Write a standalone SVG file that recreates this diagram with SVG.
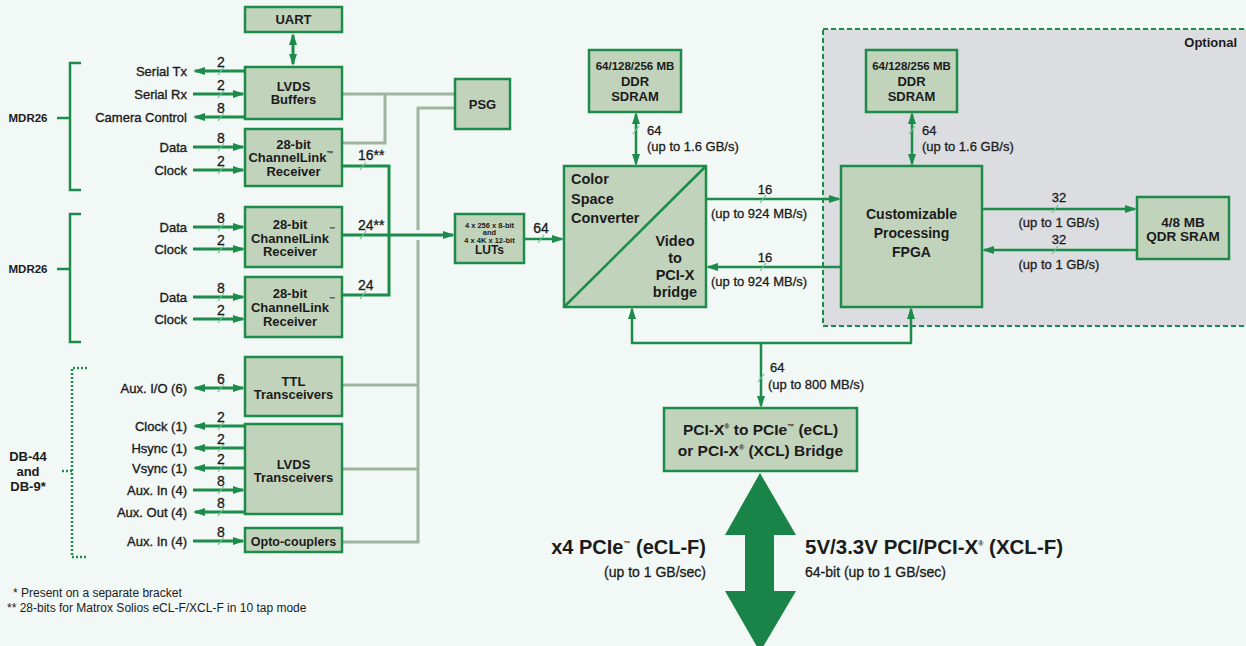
<svg xmlns="http://www.w3.org/2000/svg" width="1246" height="646" viewBox="0 0 1246 646">
<defs>
<style>
.box{fill:#c2d3bb;stroke:#1d8c4b;stroke-width:2.5}
.ln{stroke:#1d8c4b;stroke-width:3;fill:none}
.ln2{stroke:#1d8c4b;stroke-width:2.5;fill:none}
.gray{stroke:#9db59e;stroke-width:3;fill:none}
.tk{stroke:#6fc48e;stroke-width:1.2}
text{font-family:"Liberation Sans",Arial,sans-serif;fill:#1b1b1b}
.b{font-weight:bold;font-size:13px;text-anchor:middle}
.lb{font-size:13px;text-anchor:end;stroke:#1b1b1b;stroke-width:0.35}
.n{font-size:13px;text-anchor:middle;stroke:#1b1b1b;stroke-width:0.3}
.s{font-size:13px;stroke:#1b1b1b;stroke-width:0.3}
.sup{font-size:7px}
</style>
<marker id="a" viewBox="0 0 12 8" markerUnits="userSpaceOnUse" markerWidth="12" markerHeight="8" refX="10" refY="4" orient="auto-start-reverse">
<path d="M0,0 L12,4 L0,8 z" fill="#1d8c4b"/>
</marker>
</defs>
<rect width="1246" height="646" fill="#f2f8f6"/>

<g id="optional">
<rect x="823" y="29" width="430" height="297" fill="#dcdde0" stroke="#1d8c4b" stroke-width="2" stroke-dasharray="5,3"/>
<text x="1237" y="47" style="font-weight:bold;font-size:13px;text-anchor:end">Optional</text>
</g>

<g id="brackets">
<path class="ln" d="M81,63 H70 V190 H81 M57,118 H70" style="stroke-width:2.5"/>
<path class="ln" d="M81,214 H70 V342 H81 M57,269 H70" style="stroke-width:2.5"/>
<path d="M87,368 H72 V557 H87 M62,471 H72" fill="none" stroke="#1d8c4b" stroke-width="2.5" stroke-dasharray="2,2"/>
<text x="28" y="122" style="font-weight:bold;font-size:11.5px;text-anchor:middle">MDR26</text>
<text x="28" y="273" style="font-weight:bold;font-size:11.5px;text-anchor:middle">MDR26</text>
<text x="28" y="461" style="font-weight:bold;font-size:13px;text-anchor:middle">DB-44</text>
<text x="28" y="476" style="font-weight:bold;font-size:13px;text-anchor:middle">and</text>
<text x="28" y="491" style="font-weight:bold;font-size:13px;text-anchor:middle">DB-9*</text>
</g>

<g id="connectors">
<path class="gray" d="M342,94 H455 M385,94 V143 H342"/>
<path class="gray" d="M455,108 H418 V230 M418,240 V542 H342 M418,385 H342 M418,469 H342"/>
<path class="ln" d="M342,166 H389 V295 H342"/>
<path class="ln" d="M342,235 H453" marker-end="url(#a)"/>
<line class="tk" x1="360" y1="170" x2="366" y2="162"/>
<line class="tk" x1="360" y1="239" x2="366" y2="231"/>
<line class="tk" x1="360" y1="299" x2="366" y2="291"/>
<text x="358" y="160" class="s" style="font-size:14px">16**</text>
<text x="358" y="230" class="s" style="font-size:14px">24**</text>
<text x="358" y="290" class="s" style="font-size:14px">24</text>
<path class="ln" d="M293,35 V64" marker-start="url(#a)" marker-end="url(#a)"/>
<path class="ln" d="M245,71 H195" marker-end="url(#a)"/>
<path class="ln" d="M193,94 H243" marker-end="url(#a)"/>
<path class="ln" d="M245,117 H195" marker-end="url(#a)"/>
<path class="ln" d="M193,147 H243" marker-end="url(#a)"/>
<path class="ln" d="M193,170 H243" marker-end="url(#a)"/>
<path class="ln" d="M193,227 H243" marker-end="url(#a)"/>
<path class="ln" d="M193,249 H243" marker-end="url(#a)"/>
<path class="ln" d="M193,297 H243" marker-end="url(#a)"/>
<path class="ln" d="M193,319 H243" marker-end="url(#a)"/>
<path class="ln" d="M195,388 H243" marker-start="url(#a)" marker-end="url(#a)"/>
<path class="ln" d="M245,426 H195" marker-end="url(#a)"/>
<path class="ln" d="M245,448 H195" marker-end="url(#a)"/>
<path class="ln" d="M245,468 H195" marker-end="url(#a)"/>
<path class="ln" d="M193,490 H243" marker-end="url(#a)"/>
<path class="ln" d="M245,512 H195" marker-end="url(#a)"/>
<path class="ln" d="M193,541 H243" marker-end="url(#a)"/>
<g class="tk">
<line x1="218" y1="75" x2="224" y2="67"/>
<line x1="218" y1="98" x2="224" y2="90"/>
<line x1="218" y1="121" x2="224" y2="113"/>
<line x1="218" y1="151" x2="224" y2="143"/>
<line x1="218" y1="174" x2="224" y2="166"/>
<line x1="218" y1="231" x2="224" y2="223"/>
<line x1="218" y1="253" x2="224" y2="245"/>
<line x1="218" y1="301" x2="224" y2="293"/>
<line x1="218" y1="323" x2="224" y2="315"/>
<line x1="218" y1="392" x2="224" y2="384"/>
<line x1="218" y1="430" x2="224" y2="422"/>
<line x1="218" y1="452" x2="224" y2="444"/>
<line x1="218" y1="472" x2="224" y2="464"/>
<line x1="218" y1="494" x2="224" y2="486"/>
<line x1="218" y1="516" x2="224" y2="508"/>
<line x1="218" y1="545" x2="224" y2="537"/>
</g>
<text x="221" y="67" class="n" style="font-size:14px">2</text>
<text x="221" y="90" class="n" style="font-size:14px">2</text>
<text x="221" y="113" class="n" style="font-size:14px">8</text>
<text x="221" y="143" class="n" style="font-size:14px">8</text>
<text x="221" y="166" class="n" style="font-size:14px">2</text>
<text x="221" y="223" class="n" style="font-size:14px">8</text>
<text x="221" y="245" class="n" style="font-size:14px">2</text>
<text x="221" y="293" class="n" style="font-size:14px">8</text>
<text x="221" y="315" class="n" style="font-size:14px">2</text>
<text x="221" y="384" class="n" style="font-size:14px">6</text>
<text x="221" y="422" class="n" style="font-size:14px">2</text>
<text x="221" y="444" class="n" style="font-size:14px">2</text>
<text x="221" y="464" class="n" style="font-size:14px">2</text>
<text x="221" y="486" class="n" style="font-size:14px">8</text>
<text x="221" y="508" class="n" style="font-size:14px">8</text>
<text x="221" y="537" class="n" style="font-size:14px">8</text>
<path class="ln2" d="M524,239 H562" marker-end="url(#a)"/>
<line class="tk" x1="538" y1="243" x2="544" y2="235"/>
<text x="541" y="233" class="n" style="font-size:14px">64</text>
<path class="ln2" d="M636,114 V164" marker-start="url(#a)" marker-end="url(#a)"/>
<line class="tk" x1="633" y1="134" x2="639" y2="126"/>
<text x="647" y="135" class="s">64</text>
<text x="647" y="151" class="s">(up to 1.6 GB/s)</text>
<path class="ln2" d="M912,114 V164" marker-start="url(#a)" marker-end="url(#a)"/>
<line class="tk" x1="909" y1="134" x2="915" y2="126"/>
<text x="922" y="135" class="s">64</text>
<text x="922" y="151" class="s">(up to 1.6 GB/s)</text>
<path class="ln2" d="M706,199 H839" marker-end="url(#a)"/>
<line class="tk" x1="760" y1="203" x2="766" y2="195"/>
<text x="765" y="194" class="n">16</text>
<text x="711" y="218" class="s">(up to 924 MB/s)</text>
<path class="ln2" d="M841,267 H708" marker-end="url(#a)"/>
<line class="tk" x1="760" y1="271" x2="766" y2="263"/>
<text x="765" y="262" class="n">16</text>
<text x="711" y="286" class="s">(up to 924 MB/s)</text>
<path class="ln2" d="M982,209 H1135" marker-end="url(#a)"/>
<line class="tk" x1="1052" y1="213" x2="1058" y2="205"/>
<text x="1059" y="202" class="n">32</text>
<text x="1059" y="227" class="n">(up to 1 GB/s)</text>
<path class="ln2" d="M1137,250 H984" marker-end="url(#a)"/>
<line class="tk" x1="1052" y1="254" x2="1058" y2="246"/>
<text x="1059" y="244" class="n">32</text>
<text x="1059" y="269" class="n">(up to 1 GB/s)</text>
<path class="ln2" d="M632,343 V309" marker-end="url(#a)"/>
<path class="ln2" d="M911,343 V309" marker-end="url(#a)"/>
<path class="ln2" d="M631,343 H912"/>
<path class="ln2" d="M761,343 V406" marker-end="url(#a)"/>
<line class="tk" x1="758" y1="382" x2="764" y2="374"/>
<text x="770" y="372" class="s" style="font-size:13px">64</text>
<text x="768" y="389" class="s" style="font-size:13px">(up to 800 MB/s)</text>
</g>

<g id="uart"><rect class="box" x="245" y="7" width="97" height="25"/><text class="b" x="293.5" y="24">UART</text></g>
<g id="lvds-buffers"><rect class="box" x="245" y="67" width="97" height="52"/><text class="b" x="293.5" y="91">LVDS</text><text class="b" x="293.5" y="104">Buffers</text></g>
<g id="cl-rx1"><rect class="box" x="245" y="129" width="97" height="57"/><text class="b" x="293.5" y="148.5">28-bit</text><text class="b" x="291" y="162">ChannelLink<tspan class="sup" dy="-6">™</tspan></text><text class="b" x="293.5" y="175.5">Receiver</text></g>
<g id="cl-rx2"><rect class="box" x="245" y="207" width="97" height="60"/><text class="b" x="290" y="228.5">28-bit</text><text class="b" x="290" y="242.5">ChannelLink</text><text class="b" x="290" y="256">Receiver</text><text x="332" y="231" style="font-size:6px;font-weight:bold;text-anchor:middle">™</text></g>
<g id="cl-rx3"><rect class="box" x="245" y="277" width="97" height="60"/><text class="b" x="290" y="298">28-bit</text><text class="b" x="290" y="312">ChannelLink</text><text class="b" x="290" y="325.5">Receiver</text><text x="332" y="301" style="font-size:6px;font-weight:bold;text-anchor:middle">™</text></g>
<g id="ttl"><rect class="box" x="245" y="357" width="97" height="59"/><text class="b" x="293.5" y="385.5">TTL</text><text class="b" x="293.5" y="399">Transceivers</text></g>
<g id="lvds-trx"><rect class="box" x="245" y="424" width="97" height="90"/><text class="b" x="293.5" y="468.5">LVDS</text><text class="b" x="293.5" y="482">Transceivers</text></g>
<g id="opto"><rect class="box" x="245" y="528" width="97" height="24"/><text class="b" x="293.5" y="545.5" style="font-size:12.5px">Opto-couplers</text></g>
<g id="psg"><rect class="box" x="455" y="79" width="55" height="50"/><text class="b" x="482.5" y="108.5">PSG</text></g>
<g id="luts"><rect class="box" x="455" y="214" width="69" height="49"/>
<text class="b" x="489.5" y="228" style="font-size:7.5px">4 x 256 x 8-bit</text><text class="b" x="489.5" y="235" style="font-size:7.5px">and</text><text class="b" x="489.5" y="242.5" style="font-size:7.5px">4 x 4K x 12-bit</text><text class="b" x="489.5" y="254" style="font-size:12px">LUTs</text></g>
<g id="ddr1"><rect class="box" x="589" y="50" width="92" height="62"/><text class="b" x="635" y="70" style="font-size:11.5px">64/128/256 MB</text><text class="b" x="635" y="86">DDR</text><text class="b" x="635" y="101">SDRAM</text></g>
<g id="csc"><rect class="box" x="564" y="166" width="142" height="141"/><line x1="564" y1="307" x2="706" y2="166" stroke="#1d8c4b" stroke-width="2.5"/>
<text x="571" y="184" style="font-weight:bold;font-size:14.5px">Color</text><text x="571" y="204" style="font-weight:bold;font-size:14.5px">Space</text><text x="571" y="223" style="font-weight:bold;font-size:14.5px">Converter</text>
<text class="b" x="675" y="246" style="font-size:14.5px">Video</text><text class="b" x="675" y="263" style="font-size:14.5px">to</text><text class="b" x="675" y="280" style="font-size:14.5px">PCI-X</text><text class="b" x="675" y="297" style="font-size:14.5px">bridge</text></g>
<g id="ddr2"><rect class="box" x="866" y="50" width="91" height="62"/><text class="b" x="911.5" y="70" style="font-size:11.5px">64/128/256 MB</text><text class="b" x="911.5" y="86">DDR</text><text class="b" x="911.5" y="101">SDRAM</text></g>
<g id="fpga"><rect class="box" x="841" y="166" width="141" height="141"/><text class="b" x="911.5" y="219" style="font-size:14px">Customizable</text><text class="b" x="911.5" y="238" style="font-size:14px">Processing</text><text class="b" x="911.5" y="257" style="font-size:14px">FPGA</text></g>
<g id="qdr"><rect class="box" x="1137" y="197" width="92" height="62"/><text class="b" x="1183" y="226.5" style="font-size:13.5px">4/8 MB</text><text class="b" x="1183" y="240.5" style="font-size:13.5px">QDR SRAM</text></g>
<g id="pci-bridge"><rect class="box" x="664" y="408" width="193" height="63"/>
<text class="b" x="760.5" y="435" style="font-size:15.5px">PCI-X<tspan class="sup" dy="-6">®</tspan><tspan dy="6"> to PCIe</tspan><tspan class="sup" dy="-6">™</tspan><tspan dy="6"> (eCL)</tspan></text>
<text class="b" x="760.5" y="456" style="font-size:15.5px">or PCI-X<tspan class="sup" dy="-6">®</tspan><tspan dy="6"> (XCL) Bridge</tspan></text></g>

<g id="host-arrow">
<polygon points="760,473 796,535 774,535 774,591 796,591 760,652 725,591 745,591 745,535 725,535" fill="#1a8448"/>
<text x="706" y="554" style="font-weight:bold;font-size:20px;text-anchor:end">x4 PCIe<tspan style="font-size:7px" dy="-8">™</tspan><tspan dy="8"> (eCL-F)</tspan></text>
<text x="706" y="577" class="s" style="font-size:14px;text-anchor:end">(up to 1 GB/sec)</text>
<text x="805" y="554" style="font-weight:bold;font-size:20.5px">5V/3.3V PCI/PCI-X<tspan style="font-size:7px" dy="-8">®</tspan><tspan dy="8"> (XCL-F)</tspan></text>
<text x="805" y="577" class="s" style="font-size:14px">64-bit (up to 1 GB/sec)</text>
</g>

<g id="labels">
<text class="lb" x="187" y="75.5">Serial Tx</text>
<text class="lb" x="187" y="98.5">Serial Rx</text>
<text class="lb" x="187" y="121.5">Camera Control</text>
<text class="lb" x="187" y="151.5">Data</text>
<text class="lb" x="187" y="174.5">Clock</text>
<text class="lb" x="187" y="231.5">Data</text>
<text class="lb" x="187" y="253.5">Clock</text>
<text class="lb" x="187" y="301.5">Data</text>
<text class="lb" x="187" y="323.5">Clock</text>
<text class="lb" x="187" y="392.5">Aux. I/O (6)</text>
<text class="lb" x="187" y="430.5">Clock (1)</text>
<text class="lb" x="187" y="452.5">Hsync (1)</text>
<text class="lb" x="187" y="472.5">Vsync (1)</text>
<text class="lb" x="187" y="494.5">Aux. In (4)</text>
<text class="lb" x="187" y="516.5">Aux. Out (4)</text>
<text class="lb" x="187" y="545.5">Aux. In (4)</text>
</g>

<g id="footnotes">
<text x="13" y="597" style="font-size:12px">* Present on a separate bracket</text>
<text x="7" y="612" style="font-size:12px">** 28-bits for Matrox Solios eCL-F/XCL-F in 10 tap mode</text>
</g>
</svg>
